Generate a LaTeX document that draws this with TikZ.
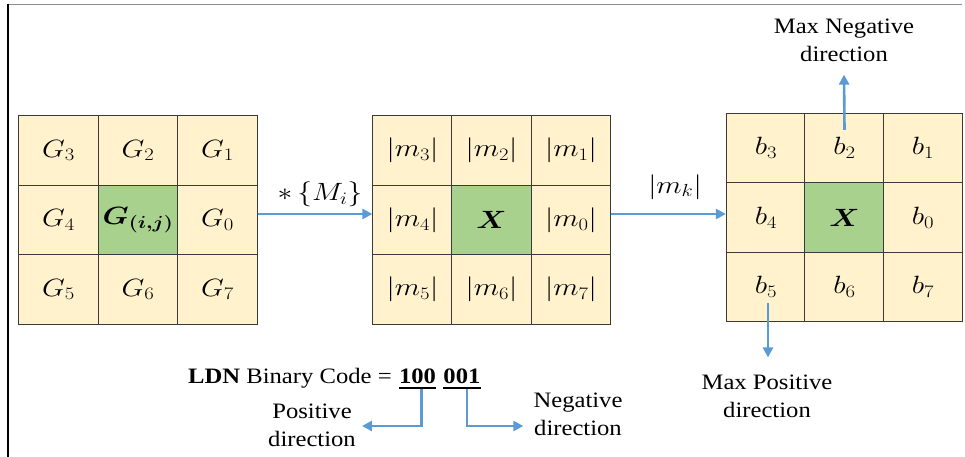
\RequirePackage{fix-cm}
\documentclass[tikz,border=0pt]{standalone}
\usepackage{amsmath,bm}
\usepackage{graphicx}
\usepackage{fontspec}
\setmainfont{Liberation Serif}[FakeStretch=1.12]
\usetikzlibrary{arrows.meta,calc}

\definecolor{cellfill}{HTML}{FFF2CC}
\definecolor{hubfill}{HTML}{A9D18E}
\definecolor{cellline}{HTML}{3A3A3A}
\definecolor{flowblue}{HTML}{5B9BD5}
\definecolor{framegray}{HTML}{8C8C8C}

% math set slightly wide
\newcommand\wm[1]{\scalebox{1.18}[1]{$#1$}}

\begin{document}
\begin{tikzpicture}[x=1pt,y=-1pt,
  cell/.style={draw=cellline, line width=0.8pt, fill=cellfill,
    minimum width=79.5pt, minimum height=69.5pt, inner sep=0pt,
    font=\fontsize{25}{28}\selectfont},
  hub/.style={cell, fill=hubfill},
  txt/.style={font=\fontsize{22}{28}\selectfont, align=center, inner sep=2pt},
  mathlbl/.style={font=\fontsize{25}{28}\selectfont, inner sep=2pt},
  flow/.style={draw=flowblue, line width=2.6pt,
    -{Triangle[length=10pt,width=10pt]}}]

\useasboundingbox (0,0) rectangle (965,457);

% frame edges
\draw[line width=1.6pt, framegray] (8,4.5) -- (962,4.5);
\draw[line width=1.5pt, black] (8,4) -- (8,457);

% gradient neighbourhood
\node[cell] (g3) at (58.5,150.5) {\wm{G_3}};
\node[cell] (g2) at (138,150.5)  {\wm{G_2}};
\node[cell] (g1) at (217.5,150.5){\wm{G_1}};
\node[cell] (g4) at (58.5,220)   {\wm{G_4}};
\node[hub]  (gc) at (138,220)    {\wm{\bm{G_{(i,j)}}}};
\node[cell] (g0) at (217.5,220)  {\wm{G_0}};
\node[cell] (g5) at (58.5,289.5) {\wm{G_5}};
\node[cell] (g6) at (138,289.5)  {\wm{G_6}};
\node[cell] (g7) at (217.5,289.5){\wm{G_7}};

% mask responses
\node[cell] (m3) at (412.5,150.5){\wm{|m_3|}};
\node[cell] (m2) at (491.5,150.5){\wm{|m_2|}};
\node[cell] (m1) at (571,150.5)  {\wm{|m_1|}};
\node[cell] (m4) at (412.5,220)  {\wm{|m_4|}};
\node[hub]  (mc) at (491.5,220)  {\wm{\bm{X}}};
\node[cell] (m0) at (571,220)    {\wm{|m_0|}};
\node[cell] (m5) at (412.5,289.5){\wm{|m_5|}};
\node[cell] (m6) at (491.5,289.5){\wm{|m_6|}};
\node[cell] (m7) at (571,289.5)  {\wm{|m_7|}};

% binary directions
\node[cell] (b3) at (766,148)    {\wm{b_3}};
\node[cell] (b2) at (844.5,148)  {\wm{b_2}};
\node[cell] (b1) at (923,148)    {\wm{b_1}};
\node[cell] (b4) at (766,217.5)  {\wm{b_4}};
\node[hub]  (bc) at (844.5,217.5){\wm{\bm{X}}};
\node[cell] (b0) at (923,217.5)  {\wm{b_0}};
\node[cell] (b5) at (766,287)    {\wm{b_5}};
\node[cell] (b6) at (844.5,287)  {\wm{b_6}};
\node[cell] (b7) at (923,287)    {\wm{b_7}};

% flow between the grids
\draw[flow] ([yshift=6pt]g0.east) -- ([yshift=6pt]m4.west);
\node[mathlbl] (conv) at (320,194) {\wm{*\,\{M_i\}}};
\draw[flow] ([yshift=6pt]m0.east) -- ([yshift=6pt]m0.east -| b4.west);
\node[mathlbl] (mag) at (675,187) {\wm{|m_k|}};

% extreme directions
\node[txt] (maxneg) at (844,40) {Max Negative\\direction};
\node[txt] (maxpos) at (767,396) {Max Positive\\direction};
\draw[flow] ([yshift=-17pt]b2.north) -- ([yshift=-11pt]maxneg.south);
\draw[flow] ([xshift=2pt,yshift=19pt]b5.south) -- ([xshift=1pt,yshift=15pt]maxpos.north);

% code line
\node[txt, anchor=base west] (ldn) at (186,383) {\textbf{LDN} Binary Code =};
\node[txt, anchor=base west, inner sep=0pt] (pos) at ($(ldn.base east)+(5,0)$) {\textbf{100}};
\node[txt, anchor=base west, inner sep=0pt] (neg) at ($(pos.base east)+(7,0)$) {\textbf{001}};
\draw[line width=1.8pt] ($(pos.base west)+(0,5)$) -- ($(pos.base east)+(0,5)$);
\draw[line width=1.8pt] ($(neg.base west)+(0,5)$) -- ($(neg.base east)+(0,5)$);

\node[txt] (pdir) at (312,425) {Positive\\direction};
\node[txt] (ndir) at (578,414) {Negative\\direction};
\draw[flow] ($(pos.base)+(4,6)$) |- ($(pdir.east)+(4,1)$);
\draw[flow] ($(neg.base)+(5,6)$) |- ($(ndir.west)+(-8,12)$);

\end{tikzpicture}
\end{document}
